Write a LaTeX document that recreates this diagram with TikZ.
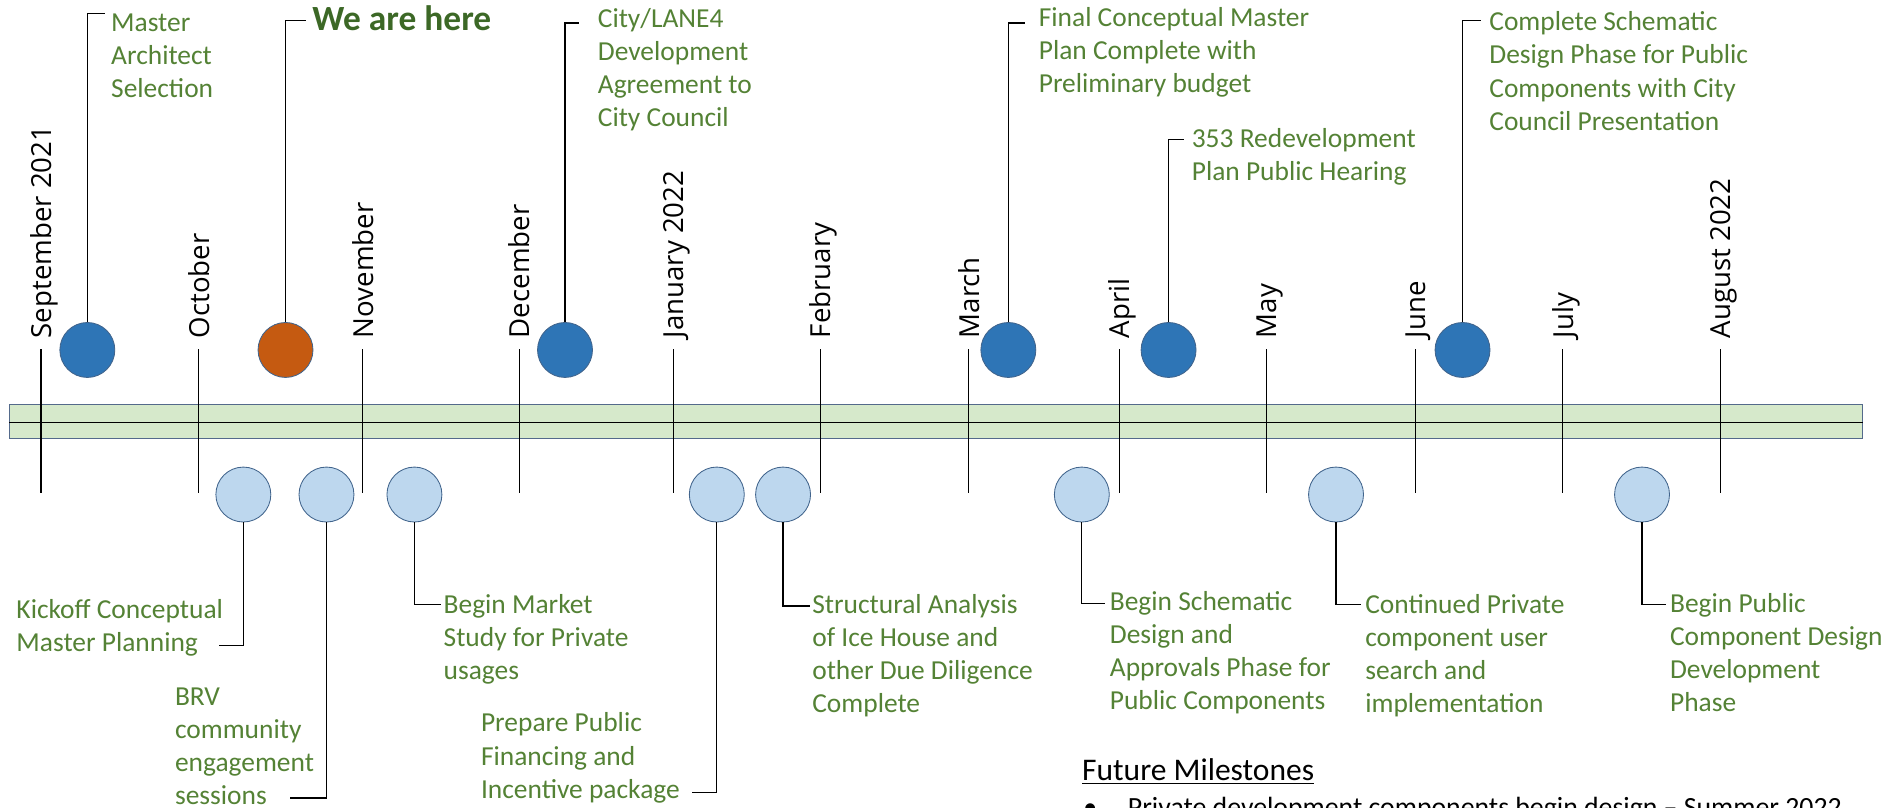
\documentclass[tikz,border=0pt]{standalone}
\usepackage{fontspec}
\setmainfont{Carlito}
\newfontfamily\monthfont{Open Sans}
\usepackage{tikz}
\usetikzlibrary{positioning}
\usetikzlibrary{calc}

\definecolor{mgreen}{RGB}{84,130,53}
\definecolor{hgreen}{RGB}{60,104,38}
\definecolor{mblue}{RGB}{46,117,182}
\definecolor{morange}{RGB}{197,90,17}
\definecolor{lblue}{RGB}{189,215,238}
\definecolor{rimblue}{RGB}{65,100,140}
\definecolor{barfill}{RGB}{214,233,203}
\definecolor{barrim}{RGB}{84,106,139}

\begin{document}
\begin{tikzpicture}[x=0.025cm, y=-0.025cm,
	month/.style = {rotate=90, anchor=west, inner sep=0pt, text depth=0pt, font=\monthfont\fontsize{16.3}{19}\selectfont},
	tick/.style = {line width=0.7pt},
	dot/.style = {circle, inner sep=0pt, minimum size=1.14cm, draw=rimblue, line width=0.5pt},
	past/.style = {dot, fill=mblue},
	now/.style = {dot, fill=morange},
	todo/.style = {dot, fill=lblue},
	note/.style = {anchor=base west, align=left, inner sep=0pt, text=mgreen, font=\fontsize{16.2}{19.6}\selectfont},
	link/.style = {line width=0.75pt}]

\useasboundingbox (0,0) rectangle (1568,670);

\draw[fill=barfill, draw=barrim, line width=0.6pt] (7.6,335.5) rectangle (1546,364);
\draw[line width=0.75pt] (7.6,350.5) -- (1546,350.5);

\node[month] (mon0) at (34,281) {September 2021};
\node[month] (mon1) at (165,281) {October};
\node[month] (mon2) at (301,281) {November};
\node[month] (mon3) at (431,281) {December};
\node[month] (mon4) at (559,281) {January 2022};
\node[month] (mon5) at (681,281) {February};
\node[month] (mon6) at (804,281) {March};
\node[month] (mon7) at (929,281) {April};
\node[month] (mon8) at (1051,281) {May};
\node[month] (mon9) at (1175,281) {June};
\node[month] (mon10) at (1297,281) {July};
\node[month] (mon11) at (1428,281) {August 2022};

\draw[tick] ($(mon0.west)+(0,9)$) -- ++(0,119);
\draw[tick] ($(mon1.west)+(0,9)$) -- ++(0,119);
\draw[tick] ($(mon2.west)+(0,9)$) -- ++(0,119);
\draw[tick] ($(mon3.west)+(0,9)$) -- ++(0,119);
\draw[tick] ($(mon4.west)+(0,9)$) -- ++(0,119);
\draw[tick] ($(mon5.west)+(0,9)$) -- ++(0,119);
\draw[tick] ($(mon6.west)+(0,9)$) -- ++(0,119);
\draw[tick] ($(mon7.west)+(0,9)$) -- ++(0,119);
\draw[tick] ($(mon8.west)+(0,9)$) -- ++(0,119);
\draw[tick] ($(mon9.west)+(0,9)$) -- ++(0,119);
\draw[tick] ($(mon10.west)+(0,9)$) -- ++(0,119);
\draw[tick] ($(mon11.west)+(0,9)$) -- ++(0,119);

\node[past] (ms0) at (72.5,290.5) {};
\node[now] (ms1) at (237,290.5) {};
\node[past] (ms2) at (469,290.5) {};
\node[past] (ms3) at (837,290.5) {};
\node[past] (ms4) at (970,290.5) {};
\node[past] (ms5) at (1214,290.5) {};

% base of a note is its last line
\node[note] (mt0) at (92,81.1) {Master\\Architect\\Selection};
\node[note, text=hgreen, font=\bfseries\fontsize{20.9}{25}\selectfont] (mt1) at (259,25) {We are here};
\node[note] (mt2) at (496,105.2) {City/LANE4\\Development\\Agreement to\\City Council};
\node[note] (mt3) at (862,77.1) {Final Conceptual Master\\Plan Complete with\\Preliminary budget};
\node[note] (mt4) at (989,149.6) {353 Redevelopment\\Plan Public Hearing};
\node[note] (mt5) at (1236,108.2) {Complete Schematic\\Design Phase for Public\\Components with City\\Council Presentation};

\draw[link] (ms0.north) |- ($(mt0.base west)+(-4.5,-70.1)$);
\draw[link] (ms1.north) |- ($(mt1.base west)+(-5,-8)$);
\draw[link] (ms2.north) |- ($(mt2.base west)+(-15,-86.2)$);
\draw[link] (ms3.north) |- ($(mt3.base west)+(-11,-58.1)$);
\draw[link] (ms4.north) |- ($(mt4.base west)+(-6,-33.6)$);
\draw[link] (ms5.north) |- ($(mt5.base west)+(-7,-91.2)$);

\node[todo] (ls0) at (202,410.5) {};
\node[todo] (ls1) at (271,410.5) {};
\node[todo] (ls2) at (344,410.5) {};
\node[todo] (ls3) at (595,410.5) {};
\node[todo] (ls4) at (650,410.5) {};
\node[todo] (ls5) at (898,410.5) {};
\node[todo] (ls6) at (1109,410.5) {};
\node[todo] (ls7) at (1363,410.5) {};

\node[note] (lt0) at (13.4,540.6) {Kickoff Conceptual\\Master Planning};
\node[note] (lt1) at (145,668.2) {BRV\\community\\engagement\\sessions};
\node[note] (lt2) at (368,564.1) {Begin Market\\Study for Private\\usages};
\node[note] (lt3) at (399,662.7) {Prepare Public\\Financing and\\Incentive package};
\node[note] (lt4) at (674,591.7) {Structural Analysis\\of Ice House and\\other Due Diligence\\Complete};
\node[note] (lt5) at (921,589.2) {Begin Schematic\\Design and\\Approvals Phase for\\Public Components};
\node[note] (lt6) at (1133,591.7) {Continued Private\\component user\\search and\\implementation};
\node[note] (lt7) at (1386,590.7) {Begin Public\\Component Design\\Development\\Phase};

\draw[link] (ls0.south) |- ($(lt0.base west)+(168.6,-5)$);
\draw[link] (ls1.south) |- ($(lt1.base west)+(96,-5.7)$);
\draw[link] (ls2.south) |- ($(lt2.base west)+(-2,-62.6)$);
\draw[link] (ls3.south) |- ($(lt3.base west)+(175,-4.7)$);
\draw[link] (ls4.south) |- ($(lt4.base west)+(-2,-88.7)$);
\draw[link] (ls5.south) |- ($(lt5.base west)+(-4,-88.2)$);
\draw[link] (ls6.south) |- ($(lt6.base west)+(-3.5,-89.7)$);
\draw[link] (ls7.south) |- ($(lt7.base west)+(-3,-88.7)$);

\node[anchor=base west, inner sep=0pt, font=\fontsize{18.6}{22}\selectfont] (fut0) at (898,648) {\underline{Future Milestones}};
\node[anchor=base west, inner sep=0pt, font=\fontsize{16.4}{19.6}\selectfont] (fut1) at (899,678) {\makebox[26.3pt][l]{\textbullet}Private development components begin design -- Summer 2022};
\end{tikzpicture}
\end{document}
